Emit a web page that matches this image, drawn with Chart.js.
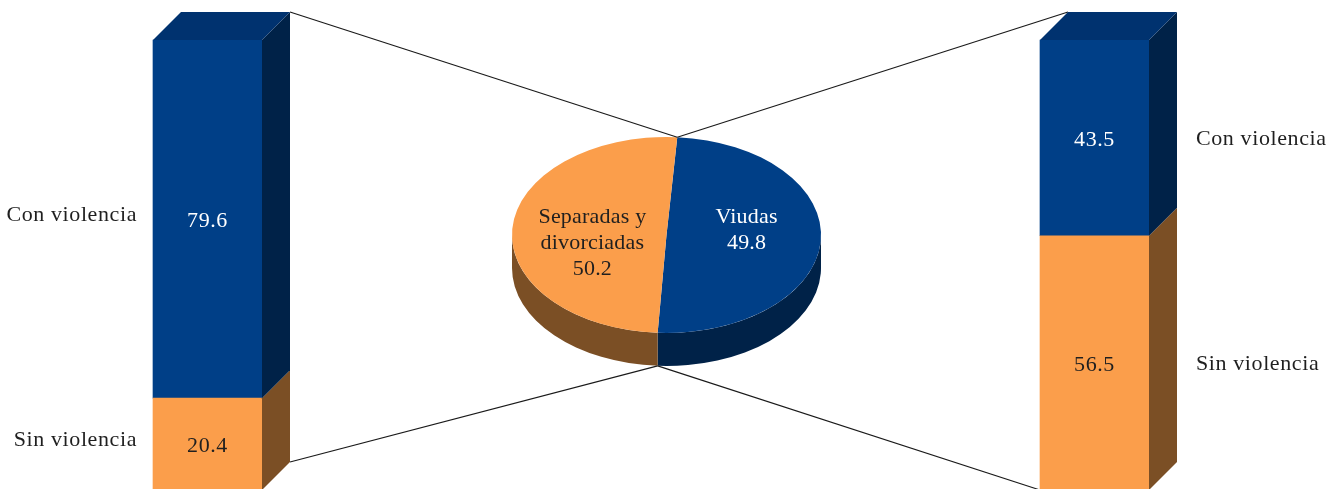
<!DOCTYPE html>
<html>
<head>
<meta charset="utf-8">
<script src="https://cdn.jsdelivr.net/npm/chart.js@4.4.1/dist/chart.umd.min.js"></script>
<style>
  html, body { margin: 0; padding: 0; background: #fff; overflow: hidden; width: 1336px; height: 489px; }
  #lienzo { position: relative; width: 1336px; height: 489px; overflow: hidden; }
  canvas { position: absolute; left: 0; top: 0; }
</style>
</head>
<body>
<div id="lienzo">
  <canvas id="pastel" width="1336" height="495"></canvas>
  <canvas id="barras" width="1336" height="495"></canvas>
</div>
<script>
// Datos
const grupos = ['Separadas y divorciadas', 'Viudas'];
const condiciones = ['Sin violencia', 'Con violencia'];
const sinViolencia = [20.4, 56.5];
const conViolencia = [79.6, 43.5];
const pastelEtiquetas = [['Viudas'], ['Separadas y', 'divorciadas']];
const pastelValores = [49.8, 50.2];

// Estilo
const AZUL = '#003F87', AZUL_LADO = '#002248', AZUL_TAPA = '#00326F';
const NARANJA = '#FB9E4B', NARANJA_LADO = '#7B4F25';
const TEXTO = '#1f1f1f';
const FUENTE = '22px "Liberation Serif", "Times New Roman", serif';
const ESPACIADO = '0.6px';
const K = 98 / 154.5;   // achatamiento vertical del pastel
const PROF_PASTEL = 33; // grosor del pastel
const PROF_BARRA = 28;  // profundidad de las barras

function texto(ctx, s, x, y, color, align, esp) {
  ctx.save();
  ctx.font = FUENTE;
  ctx.letterSpacing = esp || ESPACIADO;
  ctx.fillStyle = color;
  ctx.textAlign = align || 'center';
  ctx.textBaseline = 'middle';
  ctx.fillText(s, x, y);
  ctx.restore();
}

// Pastel en perspectiva: paredes laterales + cara superior achatada
const pastel3d = {
  id: 'pastel3d',
  beforeDatasetsDraw(chart) {
    const ctx = chart.ctx;
    const arcos = chart.getDatasetMeta(0).data;
    const cx = arcos[0].x, cy = arcos[0].y;
    const rx = arcos[0].outerRadius, ry = rx * K;
    const lados = [AZUL_LADO, NARANJA_LADO];
    arcos.forEach((a, i) => {
      for (let s = -2; s <= 2; s++) {
        const lo = Math.max(a.startAngle, s * 2 * Math.PI);
        const hi = Math.min(a.endAngle, s * 2 * Math.PI + Math.PI);
        if (hi <= lo) continue;
        ctx.beginPath();
        ctx.ellipse(cx, cy, rx, ry, 0, lo, hi, false);
        ctx.lineTo(cx + rx * Math.cos(hi), cy + ry * Math.sin(hi) + PROF_PASTEL);
        ctx.ellipse(cx, cy + PROF_PASTEL, rx, ry, 0, hi, lo, true);
        ctx.closePath();
        ctx.fillStyle = lados[i];
        ctx.fill();
      }
    });
    ctx.save();
    ctx.translate(0, cy);
    ctx.scale(1, K);
    ctx.translate(0, -cy);
  },
  afterDatasetsDraw(chart) {
    const ctx = chart.ctx;
    ctx.restore();
    const arcos = chart.getDatasetMeta(0).data;
    const cy = arcos[0].y;
    const colores = ['#ffffff', TEXTO];
    arcos.forEach((a, i) => {
      const p = a.tooltipPosition();
      const lineas = pastelEtiquetas[i].concat([pastelValores[i].toFixed(1)]);
      lineas.forEach((l, j) => texto(ctx, l, p.x + 3, cy - 18 + j * 26, colores[i], 'center', '0.2px'));
    });
  }
};

const pastel = new Chart(document.getElementById('pastel'), {
  type: 'pie',
  data: {
    labels: pastelEtiquetas,
    datasets: [{
      data: pastelValores,
      backgroundColor: [AZUL, NARANJA],
      borderWidth: 0
    }]
  },
  options: {
    responsive: false,
    animation: false,
    devicePixelRatio: 1,
    rotation: 4,
    layout: { padding: { left: 512, right: 515, top: 80.5, bottom: 105.5 } },
    plugins: { legend: { display: false }, tooltip: { enabled: false } }
  },
  plugins: [pastel3d]
});

// Barras en perspectiva, líneas de conexión y rótulos
const barras3d = {
  id: 'barras3d',
  beforeDatasetsDraw(chart) {
    const ctx = chart.ctx;
    const D = PROF_BARRA;
    const arcos = pastel.getDatasetMeta(0).data;
    const a = arcos[0];
    const rx = a.outerRadius, ry = rx * K;
    const pSup = { x: a.x + rx * Math.cos(a.startAngle), y: a.y + ry * Math.sin(a.startAngle) };
    const pInf = { x: a.x + rx * Math.cos(a.endAngle), y: a.y + ry * Math.sin(a.endAngle) + PROF_PASTEL };
    const abajo = chart.getDatasetMeta(0).data;
    const arriba = chart.getDatasetMeta(1).data;
    const izq = arriba[0], izqB = abajo[0];
    const der = arriba[1], derB = abajo[1];
    const segs = [
      [izq.x + izq.width / 2 + D, izq.y - D, pSup.x, pSup.y],
      [izqB.x + izqB.width / 2 + D, izqB.base - D, pInf.x, pInf.y],
      [der.x - der.width / 2 + D, der.y - D, pSup.x, pSup.y],
      [derB.x - derB.width / 2, derB.base, pInf.x, pInf.y]
    ];
    ctx.save();
    ctx.strokeStyle = '#1a1a1a';
    ctx.lineWidth = 1.2;
    segs.forEach(s => {
      ctx.beginPath();
      ctx.moveTo(s[0], s[1]);
      ctx.lineTo(s[2], s[3]);
      ctx.stroke();
    });
    ctx.restore();
  },
  afterDatasetsDraw(chart) {
    const ctx = chart.ctx;
    const D = PROF_BARRA;
    const lados = [NARANJA_LADO, AZUL_LADO];
    const colTexto = [TEXTO, '#ffffff'];
    chart.data.datasets.forEach((ds, di) => {
      chart.getDatasetMeta(di).data.forEach((b, bi) => {
        const l = b.x - b.width / 2, r = b.x + b.width / 2;
        // cara lateral
        ctx.beginPath();
        ctx.moveTo(r, b.y);
        ctx.lineTo(r + D, b.y - D);
        ctx.lineTo(r + D, b.base - D);
        ctx.lineTo(r, b.base);
        ctx.closePath();
        ctx.fillStyle = lados[di];
        ctx.fill();
        // tapa superior
        if (di === chart.data.datasets.length - 1) {
          ctx.beginPath();
          ctx.moveTo(l, b.y);
          ctx.lineTo(l + D, b.y - D);
          ctx.lineTo(r + D, b.y - D);
          ctx.lineTo(r, b.y);
          ctx.closePath();
          ctx.fillStyle = AZUL_TAPA;
          ctx.fill();
        }
        const ym = (b.y + b.base) / 2;
        texto(ctx, ds.data[bi].toFixed(1), b.x, ym + 2, colTexto[di]);
        if (bi === 0) {
          texto(ctx, ds.label, l - 16, ym - 4, TEXTO, 'right');
        } else {
          texto(ctx, ds.label, r + 47, ym + 1, TEXTO, 'left');
        }
      });
    });
  }
};

new Chart(document.getElementById('barras'), {
  type: 'bar',
  data: {
    labels: grupos,
    datasets: [
      { label: condiciones[0], data: sinViolencia, backgroundColor: NARANJA, borderWidth: 0, barThickness: 109, clip: false },
      { label: condiciones[1], data: conViolencia, backgroundColor: AZUL, borderWidth: 0, barThickness: 109, clip: false }
    ]
  },
  options: {
    responsive: false,
    animation: false,
    devicePixelRatio: 1,
    layout: { padding: { left: 207.5, right: 241.5, top: 40, bottom: 5 } },
    scales: {
      x: { display: false, offset: false, stacked: true },
      y: { display: false, stacked: true, min: 0, max: 100 }
    },
    plugins: { legend: { display: false }, tooltip: { enabled: false } }
  },
  plugins: [barras3d]
});
</script>
</body>
</html>
